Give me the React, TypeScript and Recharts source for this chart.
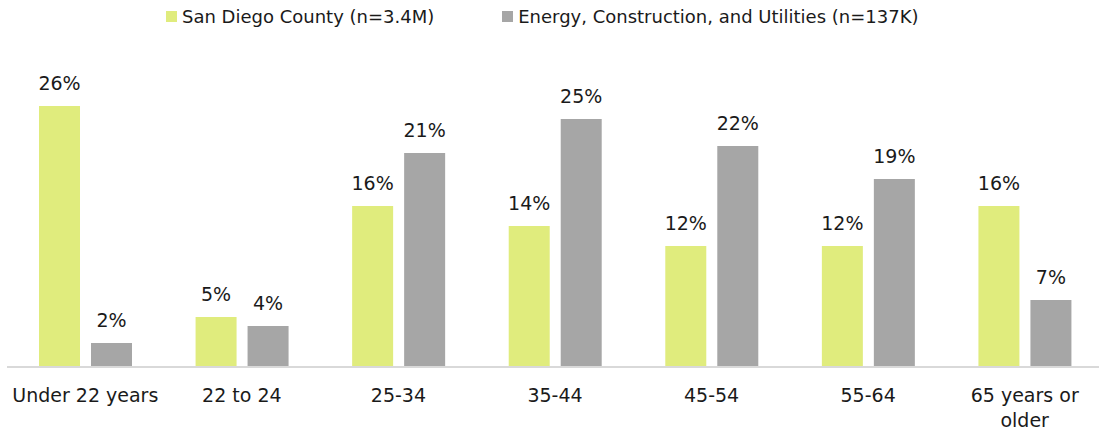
import { BarChart, Bar, XAxis, YAxis, LabelList } from 'recharts';

const categories = ['Under 22 years', '22 to 24', '25-34', '35-44', '45-54', '55-64', '65 years or\nolder'];
const sanDiego = [0.261, 0.05, 0.161, 0.141, 0.121, 0.121, 0.161];
const energy = [0.024, 0.041, 0.214, 0.248, 0.221, 0.188, 0.067];
const seriesNames = ['San Diego County (n=3.4M)', 'Energy, Construction, and Utilities (n=137K)'];
const seriesColors = ['#e0ec7d', '#a6a6a6'];

const data = categories.map((c, i) => ({ name: c, sd: sanDiego[i], ecu: energy[i] }));

const FONT = '"DejaVu Sans", sans-serif';
const TEXT = '#1a1a1a';

function CategoryTick({ x, y, payload }: any) {
  const lines = String(payload.value).split('\n');
  return (
    <text x={x} y={y + 27} textAnchor="middle" fill={TEXT} fontSize={19} fontFamily={FONT}>
      {lines.map((l, i) => (
        <tspan key={i} x={x} dy={i === 0 ? 0 : 25}>
          {l}
        </tspan>
      ))}
    </text>
  );
}

function ChartLegend() {
  return (
    <div
      style={{
        position: 'absolute',
        top: 6,
        left: 166,
        display: 'flex',
        fontFamily: FONT,
        fontSize: 18,
        color: TEXT,
        whiteSpace: 'nowrap',
      }}
    >
      {seriesNames.map((n, i) => (
        <div key={n} style={{ display: 'flex', alignItems: 'center', marginRight: i === 0 ? 68 : 0 }}>
          <span style={{ width: 11, height: 11, background: seriesColors[i], display: 'inline-block', marginRight: 5 }} />
          <span>{n}</span>
        </div>
      ))}
    </div>
  );
}

const pct = (v: number) => `${Math.round(v * 100)}%`;

export default function App() {
  return (
    <div style={{ position: 'absolute', left: 0, top: 0, width: 1099, height: 434, overflow: 'hidden', background: '#fff' }}>
      <ChartLegend />
      <BarChart
        width={1110}
        height={434}
        data={data}
        margin={{ top: 67, right: 7, bottom: 0, left: 7 }}
        barSize={41}
        barGap={11}
      >
        <XAxis
          dataKey="name"
          interval={0}
          height={67}
          tick={<CategoryTick />}
          tickLine={false}
          axisLine={{ stroke: '#d9d9d9', strokeWidth: 2 }}
        />
        <YAxis hide domain={[0, 0.3]} />
        <Bar dataKey="sd" name={seriesNames[0]} fill={seriesColors[0]} isAnimationActive={false}>
          <LabelList dataKey="sd" position="top" offset={16} formatter={pct} fill={TEXT} fontSize={19} fontFamily={FONT} />
        </Bar>
        <Bar dataKey="ecu" name={seriesNames[1]} fill={seriesColors[1]} isAnimationActive={false}>
          <LabelList dataKey="ecu" position="top" offset={16} formatter={pct} fill={TEXT} fontSize={19} fontFamily={FONT} />
        </Bar>
      </BarChart>
    </div>
  );
}
